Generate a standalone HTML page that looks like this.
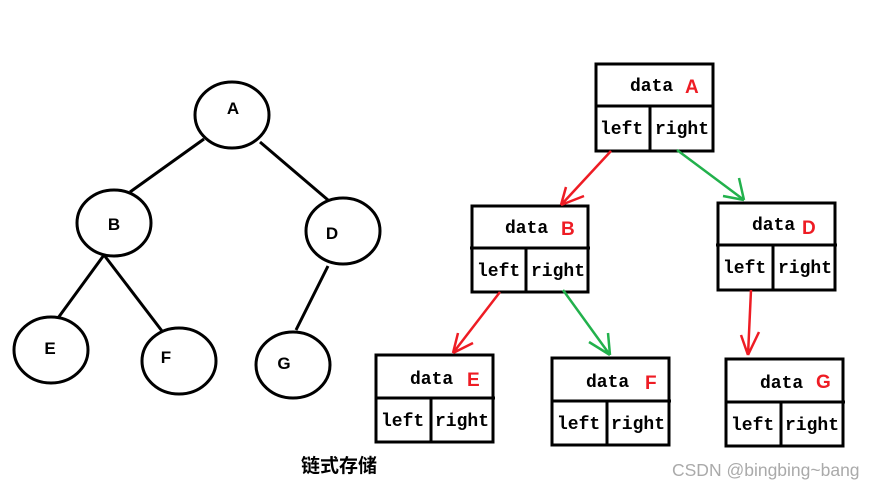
<!DOCTYPE html>
<html><head><meta charset="utf-8"><style>
html,body{margin:0;padding:0;background:#fff;}
svg{display:block;}
.l{font-family:"Liberation Sans",sans-serif;font-weight:bold;font-size:17px;}
.m{font-family:"Liberation Mono",monospace;font-weight:bold;font-size:18px;}
.r{fill:#ee1c24;font-family:"Liberation Sans",sans-serif;font-weight:bold;font-size:19px;}
</style></head><body>
<svg width="878" height="489" viewBox="0 0 878 489">
<g fill="none" stroke="#000" stroke-width="3">
<ellipse cx="232" cy="115" rx="37" ry="33"/>
<ellipse cx="114" cy="223" rx="37" ry="33"/>
<ellipse cx="343" cy="231" rx="37" ry="33"/>
<ellipse cx="51" cy="350" rx="37" ry="33"/>
<ellipse cx="179" cy="361" rx="37" ry="33"/>
<ellipse cx="293" cy="365" rx="37" ry="33"/>
<line x1="204" y1="139" x2="130" y2="192"/>
<line x1="260" y1="142" x2="328" y2="200"/>
<line x1="104" y1="255" x2="58" y2="318"/>
<line x1="104" y1="255" x2="162" y2="331"/>
<line x1="328" y1="266" x2="296" y2="330"/>
</g>
<g class="l" text-anchor="middle">
<text x="233" y="114">A</text>
<text x="114" y="230">B</text>
<text x="332" y="239">D</text>
<text x="50" y="354">E</text>
<text x="166" y="363">F</text>
<text x="284" y="369">G</text>
</g>
<g fill="none" stroke="#000" stroke-width="3">
<rect x="596" y="64" width="117" height="87"/><line x1="595" y1="106" x2="714" y2="106"/><line x1="650" y1="106" x2="650" y2="151"/>
<rect x="472" y="206" width="116" height="86"/><line x1="470" y1="248" x2="590" y2="248"/><line x1="526" y1="248" x2="526" y2="292"/>
<rect x="718" y="203" width="117" height="87"/><line x1="716" y1="245" x2="837" y2="245"/><line x1="773" y1="245" x2="773" y2="290"/>
<rect x="376" y="355" width="117" height="87"/><line x1="375" y1="398" x2="495" y2="398"/><line x1="431" y1="398" x2="431" y2="442"/>
<rect x="552" y="358" width="117" height="87"/><line x1="551" y1="401" x2="671" y2="401"/><line x1="607" y1="401" x2="607" y2="445"/>
<rect x="726" y="359" width="117" height="87"/><line x1="725" y1="402" x2="845" y2="402"/><line x1="781" y1="402" x2="781" y2="447"/>
</g>
<g class="m">
<text x="630" y="91">data</text><text x="600" y="134">left</text><text x="655" y="134">right</text>
<text x="505" y="233">data</text><text x="477" y="276">left</text><text x="531" y="276">right</text>
<text x="752" y="230">data</text><text x="723" y="273">left</text><text x="778" y="273">right</text>
<text x="410" y="384">data</text><text x="381" y="426">left</text><text x="435" y="426">right</text>
<text x="586" y="387">data</text><text x="557" y="429">left</text><text x="611" y="429">right</text>
<text x="760" y="388">data</text><text x="731" y="430">left</text><text x="785" y="430">right</text>
</g>
<g class="r">
<text x="685" y="93">A</text>
<text x="561" y="235">B</text>
<text x="802" y="234">D</text>
<text x="467" y="386">E</text>
<text x="645" y="389">F</text>
<text x="816" y="388">G</text>
</g>
<g fill="none" stroke-width="2.5">
<g stroke="#ee1c24">
<path d="M611 151 L561 205 M561 205 L566 187 M561 205 L584 196"/>
<path d="M500 292 L453 353 M453 353 L458 333 M453 353 L473 343"/>
<path d="M751 290 L748 355 M748 355 L741 335 M748 355 L759 332"/>
</g>
<g stroke="#22b14c">
<path d="M677 150 L744 200 M744 200 L739 178 M744 200 L723 196"/>
<path d="M563 290 L610 355 M610 355 L608 333 M610 355 L589 342"/>
</g>
</g>
<text x="301" y="472" style="font-family:'Liberation Sans','Noto Sans CJK SC',sans-serif;font-weight:bold;font-size:19px;">链式存储</text>
<text x="672" y="476" style="font-family:'Liberation Sans',sans-serif;font-size:17.5px;fill:#aaa;">CSDN @bingbing~bang</text>
</svg>
</body></html>
